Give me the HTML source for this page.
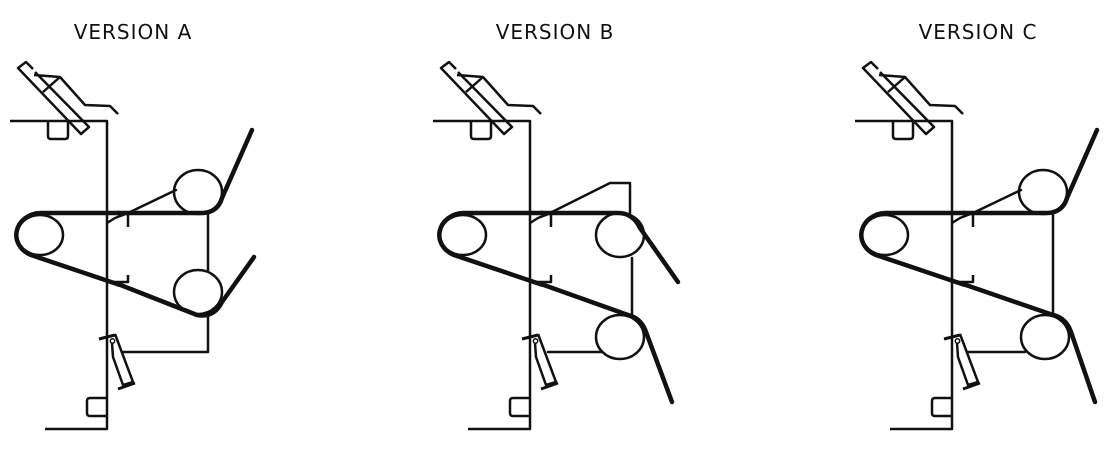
<!DOCTYPE html>
<html><head><meta charset="utf-8"><style>
html,body{margin:0;padding:0;background:#fff;width:1105px;height:450px;overflow:hidden}
svg{display:block}
text{font-family:"DejaVu Sans","Liberation Sans",sans-serif;font-size:20px;fill:#111;letter-spacing:1px}
</style></head><body>
<svg width="1105" height="450" viewBox="0 0 1105 450" xmlns="http://www.w3.org/2000/svg">
<defs>
<g id="common" fill="none" stroke="#111" stroke-linejoin="round">
  <path d="M10,121 H107 V429 H45" stroke-width="2.5"/>
  <path d="M48,121 V136 Q48,139 51,139 H65 Q68,139 68,136 V121" stroke-width="2.5"/>
  <path d="M107,398 H90 Q87,398 87,401 V413 Q87,416 90,416 H107" stroke-width="2.5"/>
  <path d="M33,69 L26,62 L18,68 L81,134 L89,127 L35,72" stroke-width="2.5"/>
  <path d="M34,75 L60,77 L85,105 L110,106 L118,114 M43,92 L60,77" stroke-width="2.5"/>
  <path d="M99,339 L115,335" stroke-width="3"/>
  <path d="M115,334 L133,382 L123,385 L113,357 L112,343" stroke-width="2.5"/>
  <path d="M118,389 L135,383" stroke-width="3"/>
  <circle cx="112.5" cy="341" r="2.2" stroke-width="1.5"/>
  <ellipse cx="40" cy="235" rx="23" ry="20" stroke-width="2.5"/>
  <path d="M40,213 H120 M40,213 A25,22 0 0 0 31,255 L120,285" stroke-width="4.5"/>
  <path d="M107,223 L115,218 L128,213 M128,213 V227" stroke-width="2.5"/>
  <path d="M112,282 H128 V275" stroke-width="2.5"/>
</g>
</defs>
<text x="133" y="39" text-anchor="middle">VERSION A</text>
<text x="555" y="39" text-anchor="middle">VERSION B</text>
<text x="978" y="39" text-anchor="middle">VERSION C</text>

<use href="#common"/>
<use href="#common" transform="translate(423,0)"/>
<use href="#common" transform="translate(845,0)"/>

<g fill="none" stroke="#111" stroke-linejoin="round" stroke-linecap="round">
<ellipse cx="198" cy="192" rx="24" ry="22" stroke-width="2.5"/>
<ellipse cx="198" cy="292" rx="24" ry="22" stroke-width="2.5"/>
<path d="M128,213 L176,190" stroke-width="2.5"/>
<path d="M208,214 V270 M208,315 V352 H123" stroke-width="2.5"/>
<path d="M118,213 H203 Q218,212 222,198 L252,130" stroke-width="4.5"/>
<path d="M118,284 L197,315 Q214,318 222,302 L254,257" stroke-width="4.5"/>

<ellipse cx="620" cy="235" rx="24" ry="22" stroke-width="2.5"/>
<ellipse cx="620" cy="337" rx="24" ry="22" stroke-width="2.5"/>
<path d="M550,213 L610,183 H630 V213" stroke-width="2.5"/>
<path d="M632,258 V315 M548,352 H602" stroke-width="2.5"/>
<path d="M541,213 H618 Q633,213 640,228 L678,282" stroke-width="4.5"/>
<path d="M541,284 L628,315 Q641,318 646,332 L672,402" stroke-width="4.5"/>

<ellipse cx="1043" cy="192" rx="24" ry="22" stroke-width="2.5"/>
<ellipse cx="1045" cy="337" rx="24" ry="22" stroke-width="2.5"/>
<path d="M973,213 L1021,190" stroke-width="2.5"/>
<path d="M1053,214 V315 M968,352 H1025" stroke-width="2.5"/>
<path d="M963,213 H1048 Q1063,212 1067,198 L1097,130" stroke-width="4.5"/>
<path d="M963,284 L1053,315 Q1066,318 1071,332 L1095,402" stroke-width="4.5"/>
</g>
</svg>
</body></html>
